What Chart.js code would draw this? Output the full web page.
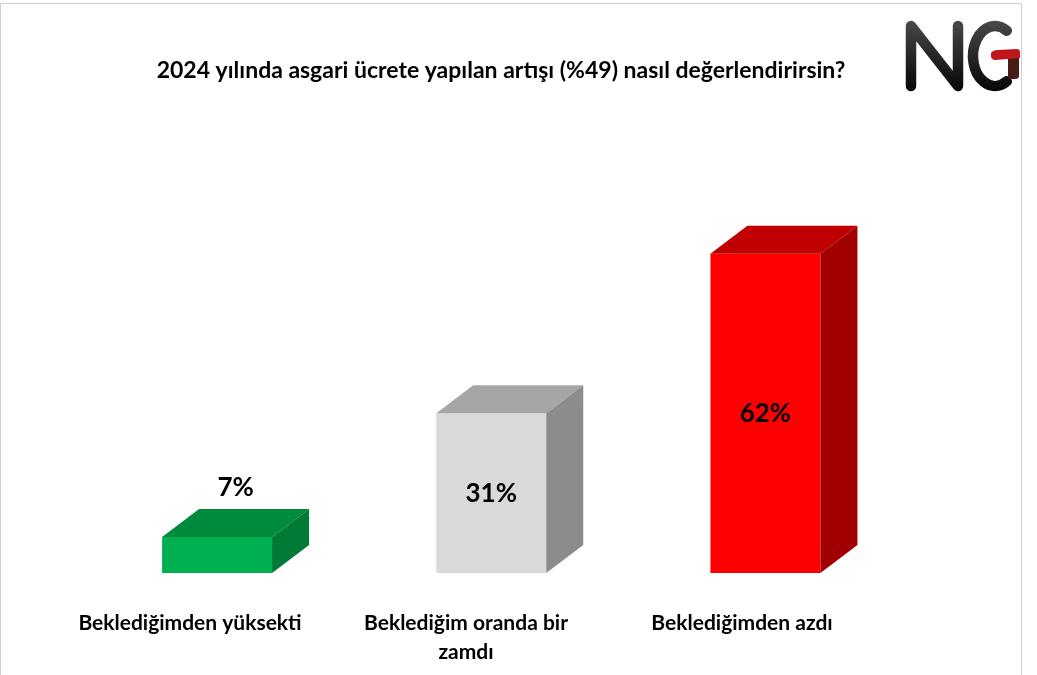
<!DOCTYPE html>
<html>
<head>
<meta charset="utf-8">
<script src="https://cdn.jsdelivr.net/npm/chart.js@4.4.1/dist/chart.umd.min.js"></script>
<style>
  html, body { margin: 0; padding: 0; background: #ffffff; }
  canvas { display: block; }
</style>
</head>
<body>
<canvas id="c" width="1037" height="675"></canvas>
<script>
// ---- data ----
const chartTitle = "2024 yılında asgari ücrete yapılan artışı (%49) nasıl değerlendirirsin?";
const categories = ["Beklediğimden yüksekti", ["Beklediğim oranda bir", "zamdı"], "Beklediğimden azdı"];
const values = [7, 31, 62];
const valueLabels = ["7%", "31%", "62%"];

// ---- styles ----
const frontColors = ["#00b050", "#d9d9d9", "#ff0000"];
const topColors   = ["#008a3e", "#a6a6a6", "#c00000"];
const sideColors  = ["#007a34", "#8c8c8c", "#a20000"];
const DEPTH_X = 37, DEPTH_Y = 28;
const FONT = "Lato, 'Open Sans', sans-serif";

const bar3d = {
  id: 'bar3d',
  beforeDraw(chart) {
    const ctx = chart.ctx;
    ctx.save();
    ctx.fillStyle = '#ffffff';
    ctx.fillRect(0, 0, chart.width, chart.height);
    ctx.strokeStyle = '#d0d0d0';
    ctx.lineWidth = 1;
    ctx.strokeRect(0.5, 3.5, 1021, 700);
    // title
    ctx.fillStyle = '#000';
    ctx.font = "bold 23px " + FONT;
    ctx.textAlign = 'center';
    ctx.textBaseline = 'middle';
    ctx.fillText(chartTitle, 501, 71);
    // logo
    const g = ctx.createLinearGradient(0, 20, 0, 92);
    g.addColorStop(0, '#4a4a4a');
    g.addColorStop(0.5, '#262626');
    g.addColorStop(1, '#050505');
    ctx.strokeStyle = g;
    ctx.lineWidth = 10.5;
    ctx.lineCap = 'round';
    ctx.lineJoin = 'round';
    ctx.beginPath();
    ctx.moveTo(911, 86);
    ctx.lineTo(911, 26);
    ctx.lineTo(958, 86);
    ctx.lineTo(958, 26);
    ctx.stroke();
    ctx.beginPath();
    ctx.ellipse(995, 56, 22, 30, 0, -Math.PI * 0.32, Math.PI * 0.32, true);
    ctx.stroke();
    ctx.lineCap = 'butt';
    ctx.fillStyle = '#4a1a15';
    ctx.beginPath();
    ctx.moveTo(1008, 55); ctx.lineTo(1019, 53); ctx.lineTo(1019, 76);
    ctx.quadraticCurveTo(1019, 79, 1015, 79); ctx.lineTo(1010, 79);
    ctx.quadraticCurveTo(1008, 79, 1008, 76);
    ctx.closePath(); ctx.fill();
    ctx.fillStyle = '#c0161b';
    ctx.beginPath();
    ctx.moveTo(991, 53); ctx.quadraticCurveTo(993, 50, 998, 50); ctx.lineTo(1017, 49);
    ctx.quadraticCurveTo(1020, 49, 1020, 53); ctx.lineTo(1020, 58); ctx.lineTo(995, 60);
    ctx.quadraticCurveTo(990, 60, 991, 53);
    ctx.closePath(); ctx.fill();
    ctx.restore();
  },
  afterDatasetsDraw(chart) {
    const ctx = chart.ctx;
    const meta = chart.getDatasetMeta(0);
    ctx.save();
    meta.data.forEach((el, i) => {
      const p = el.getProps(['x', 'y', 'base', 'width'], true);
      const l = p.x - p.width / 2, r = p.x + p.width / 2, t = p.y, b = p.base;
      // top face
      ctx.fillStyle = topColors[i];
      ctx.beginPath();
      ctx.moveTo(l, t); ctx.lineTo(r, t); ctx.lineTo(r + DEPTH_X, t - DEPTH_Y); ctx.lineTo(l + DEPTH_X, t - DEPTH_Y);
      ctx.closePath(); ctx.fill();
      // side face
      ctx.fillStyle = sideColors[i];
      ctx.beginPath();
      ctx.moveTo(r, t); ctx.lineTo(r + DEPTH_X, t - DEPTH_Y); ctx.lineTo(r + DEPTH_X, b - DEPTH_Y); ctx.lineTo(r, b);
      ctx.closePath(); ctx.fill();
      // value label
      ctx.fillStyle = '#000';
      ctx.font = "bold 26px " + FONT;
      ctx.textAlign = 'center';
      ctx.textBaseline = 'middle';
      if (b - t < 60) {
        ctx.fillText(valueLabels[i], p.x + DEPTH_X / 2, t - DEPTH_Y - 21);
      } else {
        ctx.fillText(valueLabels[i], p.x, (t + b) / 2);
      }
    });
    ctx.restore();
  }
};

const LBL_MIN = -(190 - 80) / 276;
const LBL_MAX = LBL_MIN + 822.5 / 276;

new Chart(document.getElementById('c'), {
  type: 'bar',
  data: {
    labels: categories,
    datasets: [{
      data: values,
      backgroundColor: frontColors,
      borderWidth: 0,
      barPercentage: 110 / 274.17,
      categoryPercentage: 1
    }]
  },
  options: {
    responsive: false,
    animation: false,
    layout: { padding: { left: 80, right: 134.5, top: 212.5, bottom: 0 } },
    plugins: { legend: { display: false }, tooltip: { enabled: false }, title: { display: false } },
    scales: {
      x: { display: false },
      y: { display: false, min: 0, max: 70 },
      xl: {
        type: 'linear',
        position: 'bottom',
        bounds: 'data',
        offset: false,
        beginAtZero: false,
        min: LBL_MIN,
        max: LBL_MAX,
        grid: { display: false, drawTicks: false, offset: false },
        border: { display: false },
        afterBuildTicks: (s) => { s.ticks = [{ value: 0 }, { value: 1 }, { value: 2 }]; },
        afterFit: (s) => { s.height = 102; },
        ticks: {
          autoSkip: false,
          maxRotation: 0,
          padding: 36,
          color: '#000',
          font: { family: FONT, size: 21, weight: 'bold', lineHeight: 1.36 },
          callback: (v) => categories[v]
        }
      }
    }
  },
  plugins: [bar3d]
});
</script>
</body>
</html>
